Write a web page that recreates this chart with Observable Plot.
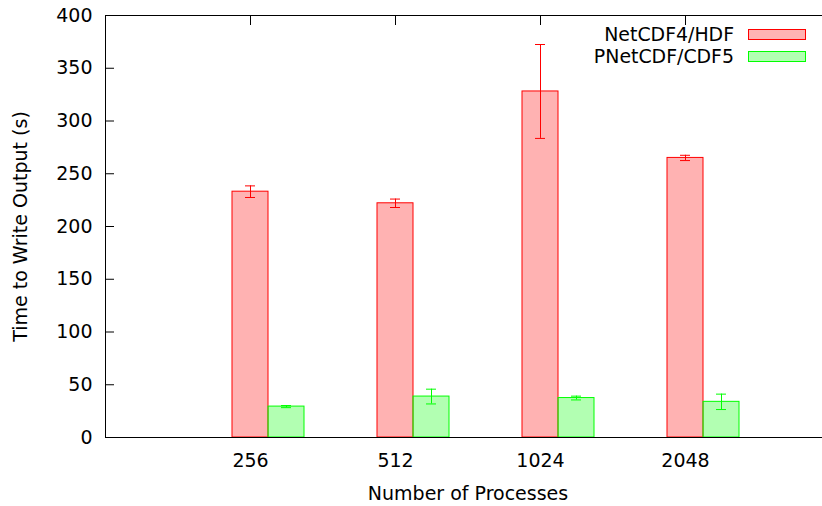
<!DOCTYPE html>
<html><head><meta charset="utf-8">
<script src="https://cdn.jsdelivr.net/npm/d3@7"></script>
<script src="https://cdn.jsdelivr.net/npm/@observablehq/plot@0.6"></script>
<style>
html,body{margin:0;padding:0;background:#fff;overflow:hidden;width:822px;height:506px}
#wrap{position:relative;width:830px;height:506px}
#wrap svg{max-width:none !important;display:block}
.lt{position:absolute;font-family:"DejaVu Sans";font-size:18.9px;line-height:23px;color:#000;white-space:nowrap;text-align:right}
.sw{position:absolute;box-sizing:border-box;border:1px solid;width:58px;height:11px;background-clip:padding-box}
</style></head>
<body><div id="wrap"></div>
<script>
const processes = ["256", "512", "1024", "2048"];
const seriesNames = ["NetCDF4/HDF", "PNetCDF/CDF5"];
const netcdf4Time = [233, 222, 328, 265];
const netcdf4Err = [5.5, 4, 44.5, 2.5];
const pnetcdfTime = [29.3, 38.8, 37.4, 33.8];
const pnetcdfErr = [1, 7, 1.8, 7.3];
const yTicks = [0, 50, 100, 150, 200, 250, 300, 350, 400];
const xTitle = "Number of Processes";
const yTitle = "Time to Write Output (s)";

const colors = ["#ff0000", "#00ff00"];
const BAR_W = 36;
const FS = 19;

const rows = (vals, errs) => processes.map((p, i) => ({proc: p, value: vals[i], lo: vals[i] - errs[i], hi: vals[i] + errs[i]}));
const seriesRows = [rows(netcdf4Time, netcdf4Err), rows(pnetcdfTime, pnetcdfErr)];

const barMarks = seriesRows.flatMap((data, s) => [
  Plot.barY(data, {x: "proc", y: "value", fill: colors[s], fillOpacity: 0.3, stroke: colors[s], strokeWidth: 1, dx: s * BAR_W})
]);
const errMarks = seriesRows.flatMap((data, s) => [
  Plot.ruleX(data, {x: "proc", y1: "lo", y2: "hi", stroke: colors[s], strokeWidth: 1, dx: s * BAR_W}),
  Plot.tickY(data, {x: "proc", y: "lo", stroke: colors[s], strokeWidth: 1, insetLeft: 13, insetRight: 13, dx: s * BAR_W}),
  Plot.tickY(data, {x: "proc", y: "hi", stroke: colors[s], strokeWidth: 1, insetLeft: 13, insetRight: 13, dx: s * BAR_W})
]);

const chart = Plot.plot({
  width: 830, height: 506,
  marginLeft: 105, marginRight: 0, marginTop: 15, marginBottom: 69,
  style: {fontFamily: "DejaVu Sans", fontSize: FS + "px", color: "#000", background: "#fff"},
  x: {type: "band", domain: processes, paddingInner: 1 - 36 / 145, paddingOuter: (2 - 36 / 145) / 2},
  y: {domain: [0, 400]},
  marks: [
    Plot.axisY(yTicks, {anchor: "left", tickSize: 0, tickPadding: 13, label: null, fontSize: FS}),
    Plot.axisY(yTicks, {anchor: "left", tickSize: -9, fill: "none", label: null}),
    Plot.axisY(yTicks, {anchor: "right", tickSize: -9, fill: "none", label: null}),
    Plot.axisX({anchor: "top", tickSize: -9, fill: "none", label: null}),
    Plot.axisX({anchor: "bottom", tickSize: 0, tickPadding: 16, label: null, fontSize: FS}),
    ...barMarks,
    ...errMarks,
    Plot.frame({stroke: "#000", strokeWidth: 1}),
    Plot.text([xTitle], {frameAnchor: "bottom", dy: 62, lineAnchor: "bottom", fontSize: FS}),
    Plot.text([yTitle], {frameAnchor: "left", dx: -84.7, rotate: -90, textAnchor: "middle", lineAnchor: "middle", fontSize: FS})
  ]
});
const wrap = document.getElementById("wrap");
wrap.appendChild(chart);

// legend (inside plot, top right)
seriesNames.forEach((name, s) => {
  const t = document.createElement("div");
  t.className = "lt";
  t.textContent = name;
  t.style.right = (830 - 734) + "px";
  t.style.top = (22.6 + s * 22.6) + "px";
  wrap.appendChild(t);
  const sw = document.createElement("div");
  sw.className = "sw";
  sw.style.left = "748px";
  sw.style.top = (29 + s * 22) + "px";
  sw.style.borderColor = colors[s];
  sw.style.background = s === 0 ? "rgba(255,0,0,0.3)" : "rgba(0,255,0,0.3)";
  wrap.appendChild(sw);
});
</script>
</body></html>
